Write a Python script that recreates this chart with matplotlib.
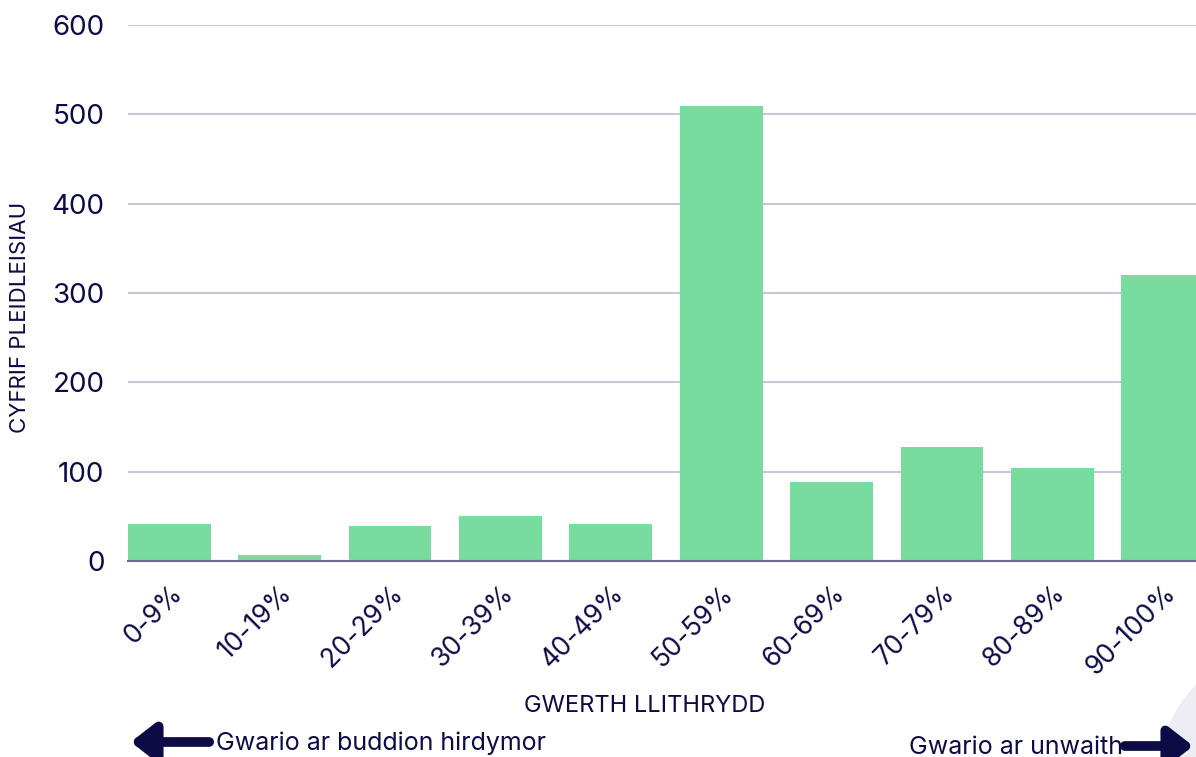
import matplotlib.pyplot as plt
from matplotlib.patches import Ellipse, FancyArrowPatch

# categories and vote counts
categories = ['0-9%', '10-19%', '20-29%', '30-39%', '40-49%',
              '50-59%', '60-69%', '70-79%', '80-89%', '90-100%']
votes = [41, 7, 39, 50, 41, 509, 88, 128, 104, 320]
y_ticks = [0, 100, 200, 300, 400, 500, 600]

navy = '#0d0b45'
green = '#78dc9e'
grid_col = '#c9c6d9'

plt.rcParams['font.family'] = ['Inter', 'DejaVu Sans']

fig = plt.figure(figsize=(11.96, 7.57), dpi=100)
ax = fig.add_axes([128 / 1196, 1 - 561 / 757, 1076 / 1196, 536 / 757])

x = range(len(categories))
ax.bar(x, votes, width=0.75, color=green, zorder=3)
ax.set_xlim(-0.375, len(categories) - 0.625)
ax.set_ylim(0, 600)

ax.set_yticks(y_ticks)
ax.set_yticklabels([str(v) for v in y_ticks], fontsize=20, color=navy)
ax.set_xticks(list(x))
ax.set_xticklabels(categories, rotation=45, ha='right', rotation_mode='anchor',
                   fontsize=19, color=navy)
ax.tick_params(axis='both', length=0)
ax.tick_params(axis='y', pad=17)
ax.tick_params(axis='x', pad=14)

ax.grid(axis='y', color=grid_col, linewidth=1.5, zorder=0)
for s in ['top', 'right', 'left']:
    ax.spines[s].set_visible(False)
ax.spines['bottom'].set_color('#6f6b90')
ax.spines['bottom'].set_linewidth(1.5)
ax.spines['bottom'].set_zorder(4)

ax.set_ylabel('CYFRIF PLEIDLEISIAU', fontsize=16, color=navy, va='center')
ax.yaxis.set_label_coords(-108 / 1076, 0.455)
fig.text(645 / 1196, 1 - 706 / 757, 'GWERTH LLITHRYDD', fontsize=17,
         color=navy, ha='center', va='center')

# decorative circle bottom right
fig.patches.append(Ellipse((1.07, -0.02), 0.2, 0.32, transform=fig.transFigure,
                           color='#eeedf4', zorder=0))

# arrows under the axis
fig.patches.append(FancyArrowPatch(
    (212 / 1196, 1 - 742 / 757), (128 / 1196, 1 - 742 / 757),
    transform=fig.transFigure, arrowstyle='-|>,head_length=9,head_width=7',
    color=navy, linewidth=7, mutation_scale=1.6))
fig.text(216 / 1196, 1 - 743 / 757, 'Gwario ar buddion hirdymor', fontsize=18,
         color=navy, ha='left', va='center')
fig.patches.append(FancyArrowPatch(
    (1122 / 1196, 1 - 746 / 757), (1196 / 1196, 1 - 746 / 757),
    transform=fig.transFigure, arrowstyle='-|>,head_length=9,head_width=7',
    color=navy, linewidth=7, mutation_scale=1.6))
fig.text(1123 / 1196, 1 - 747 / 757, 'Gwario ar unwaith', fontsize=18,
         color=navy, ha='right', va='center')

fig.savefig('out.png', dpi=100)
